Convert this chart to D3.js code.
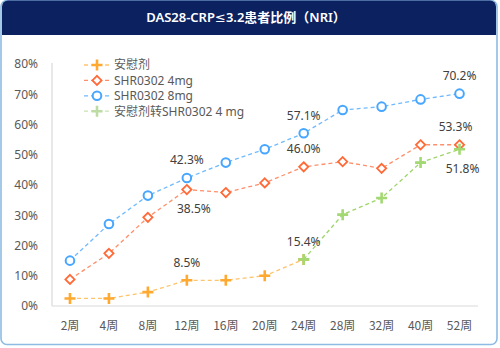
<!DOCTYPE html>
<html>
<head>
<meta charset="utf-8">
<script src="https://cdn.jsdelivr.net/npm/d3@7/dist/d3.min.js"></script>
<style>
  body { margin: 0; background: #fff; }
  text { font-family: "Noto Sans", "Noto Sans CJK SC", sans-serif; }
</style>
</head>
<body>
<div id="chart-area"></div>
<script>
// weeks on the x axis
const weeks = ["2周", "4周", "8周", "12周", "16周", "20周", "24周", "28周", "32周", "40周", "52周"];
const yTicks = [0, 10, 20, 30, 40, 50, 60, 70, 80];

// responder rates (%), null = no value at that week
const placebo   = [2.5, 2.5, 4.6, 8.5, 8.5, 10.0, 15.4, null, null, null, null];
const shr4mg    = [8.8, 17.4, 29.3, 38.5, 37.5, 40.7, 46.0, 47.7, 45.5, 53.3, 53.3];
const shr8mg    = [15.0, 27.1, 36.5, 42.3, 47.4, 51.8, 57.1, 64.8, 65.9, 68.3, 70.2];
const switched  = [null, null, null, null, null, null, 15.4, 30.2, 35.7, 47.4, 51.8];

const seriesNames = ["安慰剂", "SHR0302 4mg", "SHR0302 8mg", "安慰剂转SHR0302 4 mg"];

// value labels: series index, week index, placed above (-1) or below (+1)
const callouts = [
  {s: 0, i: 3, pos: -1}, {s: 1, i: 3, pos: 1}, {s: 2, i: 3, pos: -1},
  {s: 0, i: 6, pos: -1}, {s: 1, i: 6, pos: -1}, {s: 2, i: 6, pos: -1},
  {s: 1, i: 10, pos: -1}, {s: 2, i: 10, pos: -1}, {s: 3, i: 10, pos: 1}
];

const W = 500, H = 348;
const svg = d3.select("#chart-area").append("svg")
  .attr("width", W).attr("height", H);

// ---- card + header ----
svg.append("rect")
  .attr("x", 1).attr("y", 0.5).attr("width", 496).attr("height", 344)
  .attr("rx", 6)
  .attr("fill", "#fff").attr("stroke", "#8dbbe3").attr("stroke-width", 1.6);
svg.append("rect")
  .attr("x", 2).attr("y", 0.5).attr("width", 494).attr("height", 34.5)
  .attr("rx", 6).attr("fill", "#0b2160");
svg.append("rect")
  .attr("x", 2).attr("y", 20).attr("width", 494).attr("height", 15)
  .attr("fill", "#0b2160");
const title = svg.append("text")
  .attr("x", 246).attr("y", 22)
  .attr("text-anchor", "middle")
  .attr("fill", "#fff")
  .style("font-size", "13px").style("font-weight", 600)
  .style("font-family", "'Noto Sans', 'Noto Sans CJK SC', sans-serif");
title.append("tspan").text("DAS28-CRP");
title.append("tspan").style("font-family", "'DejaVu Sans', sans-serif").style("font-weight", 400).text("≤");
title.append("tspan").text("3.2患者比例（NRI）");

// ---- scales ----
const x = d3.scaleBand().domain(weeks).range([50.5, 479]);
const y = d3.scaleLinear().domain([0, 80]).range([306, 64]);
const cx = w => x(w) + x.bandwidth() / 2;

const axisColor = "#d9d9d9";
svg.append("line")
  .attr("x1", 52).attr("x2", 52).attr("y1", y(80) - 1).attr("y2", y(0))
  .attr("stroke", axisColor).attr("stroke-width", 1.2);
svg.append("line")
  .attr("x1", 52).attr("x2", 478).attr("y1", y(0)).attr("y2", y(0))
  .attr("stroke", axisColor).attr("stroke-width", 1.2);

svg.selectAll(".ytick").data(yTicks).enter().append("text")
  .attr("x", 38).attr("y", d => y(d)).attr("dy", "0.36em")
  .attr("text-anchor", "end").attr("fill", "#595959")
  .style("font-size", "12px")
  .text(d => d + "%");

svg.selectAll(".xtick").data(weeks).enter().append("text")
  .attr("x", d => cx(d)).attr("y", 326).attr("dy", "0.36em")
  .attr("text-anchor", "middle").attr("fill", "#595959")
  .style("font-size", "12px")
  .style("font-family", "'Noto Sans CJK SC', sans-serif")
  .text(d => d);

// ---- series ----
const series = [
  {vals: placebo,  line: "#ffc36b", mark: "#ffa931", shape: "plus"},
  {vals: shr4mg,   line: "#ff8f6b", mark: "#ff6a38", shape: "diamond"},
  {vals: shr8mg,   line: "#6fbaff", mark: "#47a6ff", shape: "circle"},
  {vals: switched, line: "#9fd46a", mark: "#a3d873", shape: "plus"}
];

function drawMarker(g, shape, color, px, py) {
  const m = g.append("g").attr("transform", `translate(${px},${py})`);
  if (shape === "circle") {
    m.append("circle").attr("r", 4.3).attr("fill", "#fff")
      .attr("stroke", color).attr("stroke-width", 2);
  } else if (shape === "diamond") {
    m.append("path").attr("d", "M0,-4.6L4.6,0L0,4.6L-4.6,0Z")
      .attr("fill", "#fff").attr("stroke", color).attr("stroke-width", 1.8);
  } else {
    m.append("path").attr("d", "M-5.5,0H5.5M0,-5.5V5.5")
      .attr("stroke", color).attr("stroke-width", 2.6);
  }
}

const lineGen = d3.line()
  .defined(d => d.v != null)
  .x(d => cx(d.w)).y(d => y(d.v));

series.forEach(s => {
  const pts = weeks.map((w, i) => ({w: w, v: s.vals[i]}));
  svg.append("path")
    .datum(pts)
    .attr("d", lineGen)
    .attr("fill", "none")
    .attr("stroke", s.line).attr("stroke-width", 1.3)
    .attr("stroke-dasharray", "4,3");
  pts.filter(d => d.v != null).forEach(d => drawMarker(svg, s.shape, s.mark, cx(d.w), y(d.v)));
});

// ---- value labels ----
svg.selectAll(".callout").data(callouts).enter().append("text")
  .attr("x", d => cx(weeks[d.i]) + (d.s === 3 ? 3 : d.s === 1 && d.i === 3 ? 7 : d.s === 1 && d.i === 10 ? -4 : 0))
  .attr("y", d => y(series[d.s].vals[d.i]) + (d.pos < 0 ? -18 : 19))
  .attr("dy", "0.36em")
  .attr("text-anchor", "middle").attr("fill", "#404040")
  .style("font-size", "12px")
  .text(d => series[d.s].vals[d.i].toFixed(1) + "%");

// ---- legend ----
const legend = svg.append("g").attr("transform", "translate(84,65)");
seriesNames.forEach((name, i) => {
  const s = series[i];
  const faded = i === 3;
  const row = legend.append("g").attr("transform", `translate(0,${i * 15.4})`);
  row.append("line")
    .attr("x1", 0).attr("x2", 26)
    .attr("stroke", faded ? "#c9e2b3" : s.line).attr("stroke-width", 1.3)
    .attr("stroke-dasharray", "4,3");
  drawMarker(row, s.shape, faded ? "#bcdca4" : s.mark, 13, 0);
  row.append("text")
    .attr("x", 30).attr("dy", "0.36em")
    .attr("fill", "#595959")
    .style("font-size", "12px")
    .style("font-family", "'Noto Sans', 'Noto Sans CJK SC', sans-serif")
    .text(name);
});
</script>
</body>
</html>
